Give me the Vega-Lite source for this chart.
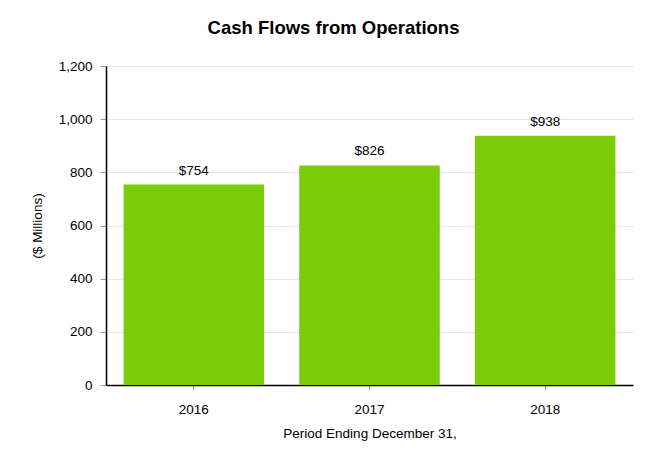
{
  "$schema": "https://vega.github.io/schema/vega-lite/v6.json",
  "autosize": {"type": "none"},
  "padding": {"left": 106, "top": 66, "right": 33, "bottom": 83},
  "width": 527,
  "height": 319,
  "background": "white",
  "config": {
    "view": {"stroke": null},
    "font": "Liberation Sans"
  },
  "title": {
    "text": "Cash Flows from Operations",
    "fontSize": 18.5,
    "fontWeight": "bold",
    "color": "black",
    "anchor": "middle",
    "offset": 22,
    "dx": -36
  },
  "data": {
    "values": [
      {"year": "2016", "cash": 754, "label": "$754"},
      {"year": "2017", "cash": 826, "label": "$826"},
      {"year": "2018", "cash": 938, "label": "$938"}
    ]
  },
  "encoding": {
    "x": {
      "field": "year",
      "type": "ordinal",
      "scale": {"paddingInner": 0.2, "paddingOuter": 0.1},
      "axis": {
        "title": "Period Ending December 31,",
        "titleFontSize": 13.5,
        "titleFontWeight": "normal",
        "titleColor": "black",
        "titlePadding": 11,
        "labelAngle": 0,
        "labelFontSize": 13.5,
        "labelColor": "black",
        "labelPadding": 12,
        "domainColor": "black",
        "domainWidth": 1.5,
        "tickColor": "#999999",
        "tickSize": 5
      }
    },
    "y": {
      "field": "cash",
      "type": "quantitative",
      "scale": {"domain": [0, 1200]},
      "axis": {
        "title": "($ Millions)",
        "titleFontSize": 13.5,
        "titleFontWeight": "normal",
        "titleColor": "black",
        "titlePadding": 14,
        "values": [0, 200, 400, 600, 800, 1000, 1200],
        "format": ",d",
        "labelFontSize": 13.5,
        "labelColor": "black",
        "labelPadding": 8,
        "domainColor": "black",
        "domainWidth": 1.5,
        "tickColor": "#999999",
        "tickSize": 6,
        "gridColor": "#e6e6e6"
      }
    }
  },
  "layer": [
    {
      "mark": {"type": "bar", "color": "#7acc08"}
    },
    {
      "mark": {"type": "text", "baseline": "bottom", "dy": -7, "fontSize": 13.5, "color": "black"},
      "encoding": {"text": {"field": "label"}}
    }
  ]
}
